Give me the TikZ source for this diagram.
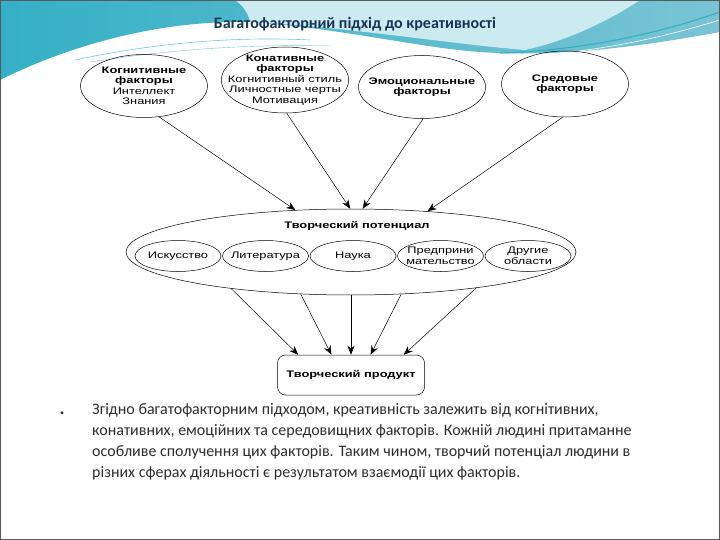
\documentclass[tikz,border=0pt]{standalone}
\usepackage{fontspec}
\setmainfont{Carlito}
\newfontfamily\diagfont[FakeStretch=1.35]{Liberation Sans}
\usetikzlibrary{arrows.meta, positioning, shapes.geometric}

\definecolor{tealmid}{RGB}{122,196,212}
\definecolor{tealdeep}{RGB}{52,176,198}
\definecolor{tealpale}{RGB}{204,235,241}
\definecolor{titleblue}{RGB}{24,50,84}
\definecolor{bodygray}{RGB}{45,45,45}

\begin{document}
\begin{tikzpicture}[x=1pt, y=-1pt,
    factor/.style={draw, ellipse, line width=0.5pt, inner xsep=-12pt, inner ysep=-8pt, align=center,
        font=\diagfont\fontsize{9.5}{10.5}\selectfont, minimum width=127pt, minimum height=63pt},
    area/.style={draw, ellipse, line width=0.5pt, inner xsep=-12pt, inner ysep=-6pt, align=center,
        font=\diagfont\fontsize{9.5}{10.5}\selectfont, minimum width=86pt, minimum height=31pt},
    arr/.style={-{Stealth[length=9pt, width=7pt]}, line width=0.5pt}]

    \useasboundingbox (0,0) rectangle (720,540);

    % Slide header waves
    \shade[left color=tealdeep, right color=tealmid] (0,0) -- (720,0) -- (720,32)
        .. controls (650,45) and (560,58) .. (480,52)
        .. controls (420,48) and (340,28) .. (250,22)
        .. controls (150,20) and (60,50) .. (0,80) -- cycle;
    \fill[tealpale] (235,0) -- (640,0) .. controls (610,20) and (570,40) .. (525,50)
        .. controls (450,44) and (340,26) .. (250,22) .. controls (248,12) and (242,5) .. (235,0) -- cycle;
    \draw[tealdeep!70, line width=0.6pt] (75,60) .. controls (150,44) and (230,36) .. (310,40);
    \draw[tealmid, line width=0.4pt] (90,62) .. controls (170,50) and (240,44) .. (330,46);
    \draw[tealdeep, line width=1.2pt] (500,53) .. controls (600,50) and (680,26) .. (720,12);
    \draw[white, line width=0.6pt] (520,56) .. controls (610,52) and (680,32) .. (720,20);
    \draw[black!65, line width=1.2pt] (0.6,0.6) rectangle (719.4,539.4);

    % Title
    \node[font=\bfseries\fontsize{16}{18}\selectfont, text=titleblue] (title) at (355,24)
        {Багатофакторний підхід до креативності};

    % Factors
    \node[factor] (cog) at (144,86)
        {\textbf{Когнитивные}\\\textbf{факторы}\\Интеллект\\Знания};
    \node[factor, minimum height=66pt] (con) at (285,80)
        {\textbf{Конативные}\\\textbf{факторы}\\Когнитивный стиль\\Личностные черты\\Мотивация};
    \node[factor] (emo) at (422,87) {\textbf{Эмоциональные}\\\textbf{факторы}};
    \node[factor, minimum height=66pt] (env) at (565,84) {\textbf{Средовые}\\\textbf{факторы}};

    % Creative potential
    \node[draw, ellipse, minimum width=450pt, minimum height=86pt, line width=0.5pt] (pot) at (351,252) {};
    \node[font=\diagfont\bfseries\fontsize{9.5}{10.5}\selectfont] (potlabel) at (357,226) {Творческий потенциал};
    \node[area] (art) at (178,256) {Искусство};
    \node[area, right=1pt of art] (lit) {Литература};
    \node[area, right=1pt of lit] (sci) {Наука};
    \node[area, right=1pt of sci] (biz) {Предприни\\мательство};
    \node[area, right=1pt of biz] (other) {Другие\\области};

    % Creative product
    \node[draw, rounded corners=8pt, minimum width=147pt, minimum height=40pt, line width=0.5pt,
        font=\diagfont\bfseries\fontsize{9.5}{10.5}\selectfont] (prod) at (351,375) {Творческий продукт};

    % Arrows
    \draw[arr] (cog.-64) -- (pot.143);
    \draw[arr] (con.-87) -- (pot.91);
    \draw[arr] (emo.-88) -- (pot.75);
    \draw[arr] (env.-94) -- (pot.28);
    \draw[arr] (pot.-163) -- (prod.159);
    \draw[arr] (pot.-140) -- (prod.134);
    \draw[arr] (pot.south) -- (prod.north);
    \draw[arr] (pot.-40) -- (prod.46);
    \draw[arr] (pot.-16) -- (prod.21);

    % Text below
    \node[font=\fontsize{8}{8}\selectfont, text=bodygray] (dot) at (62,414) {•};
    \node[anchor=north west, align=left, inner sep=0pt, text=bodygray,
        font=\fontsize{16}{21}\selectfont] (body) at (92,403)
        {Згідно багатофакторним підходом, креативність залежить від когнітивних,\\
         конативних, емоційних та середовищних факторів. Кожній людині притаманне\\
         особливе сполучення цих факторів. Таким чином, творчий потенціал людини в\\
         різних сферах діяльності є результатом взаємодії цих факторів.};

\end{tikzpicture}
\end{document}
